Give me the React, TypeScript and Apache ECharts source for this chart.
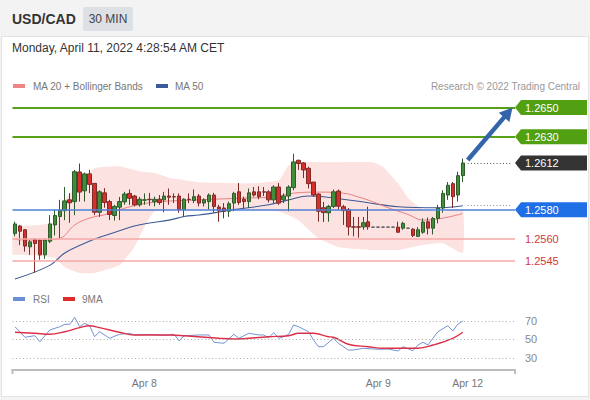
import React, { useEffect, useRef } from 'react';
import * as echarts from 'echarts';

const FONT = '"Liberation Sans", Arial, Helvetica, sans-serif';

// ---- Candles (30 min), index 0..90 ----
const candleOpen = [
  1.25637, 1.25688, 1.25662, 1.25545, 1.25595, 1.2559, 1.2549, 1.25583, 1.25695, 1.25753,
  1.25793, 1.25867, 1.25855, 1.26058, 1.25929, 1.26045, 1.2598, 1.25782, 1.25915, 1.25855,
  1.2576, 1.25817, 1.25853, 1.25911, 1.25893, 1.25833, 1.25865, 1.25871, 1.25855, 1.25871,
  1.25867, 1.25893, 1.25889, 1.25893, 1.258, 1.25871, 1.25862, 1.25893, 1.25845, 1.25855,
  1.259, 1.25818, 1.25811, 1.25789, 1.25845, 1.25922, 1.25871, 1.25855, 1.25922, 1.25922,
  1.25922, 1.25922, 1.25867, 1.25955, 1.25867, 1.25893, 1.25951, 1.26138, 1.2612, 1.26083,
  1.25989, 1.25907, 1.25813, 1.25778, 1.25822, 1.25927, 1.2582, 1.258, 1.25682, 1.25682,
  1.25682, 1.25717, 1.2568, 1.2568, 1.2568, 1.2568, 1.2568, 1.2568, 1.25673, 1.25673,
  1.25666, 1.25617, 1.25645, 1.25717, 1.25673, 1.2574, 1.25811, 1.259, 1.25978, 1.259,
  1.26033,
];
const candleClose = [
  1.25702, 1.25652, 1.2555, 1.25579, 1.25568, 1.2549, 1.2559, 1.25702, 1.2576, 1.25793,
  1.2586, 1.25847, 1.2606, 1.2592, 1.26045, 1.25973, 1.25782, 1.25922, 1.25849, 1.25767,
  1.25822, 1.25855, 1.25907, 1.25878, 1.25833, 1.25871, 1.25867, 1.25868, 1.25871, 1.25849,
  1.25893, 1.25885, 1.25887, 1.258, 1.25871, 1.2587, 1.25889, 1.25845, 1.25867, 1.259,
  1.25822, 1.25795, 1.25789, 1.2584, 1.25911, 1.25849, 1.25855, 1.25915, 1.259, 1.25889,
  1.2592, 1.25867, 1.25955, 1.25845, 1.25893, 1.25955, 1.26127, 1.26116, 1.26072, 1.25978,
  1.259, 1.25789, 1.2578, 1.25822, 1.25922, 1.25823, 1.25793, 1.25682, 1.2568, 1.2568,
  1.2571, 1.25682, 1.2568, 1.2568, 1.2568, 1.2568, 1.2568, 1.25645, 1.25706, 1.25673,
  1.25623, 1.25662, 1.25715, 1.25673, 1.2574, 1.25811, 1.25911, 1.25967, 1.25889, 1.26033,
  1.2612,
];
const candleLow = [
  1.25617, 1.25557, 1.25512, 1.2549, 1.25367, 1.25457, 1.25463, 1.2557, 1.25623, 1.256,
  1.25728, 1.2571, 1.25762, 1.25855, 1.25855, 1.25913, 1.25762, 1.2575, 1.25813, 1.25728,
  1.25725, 1.25728, 1.25833, 1.25833, 1.25822, 1.2582, 1.25833, 1.25827, 1.25822, 1.25833,
  1.25782, 1.25833, 1.25845, 1.25778, 1.2575, 1.25845, 1.25845, 1.25822, 1.25822, 1.258,
  1.25782, 1.25717, 1.2574, 1.2575, 1.25789, 1.25833, 1.25811, 1.25811, 1.25889, 1.25871,
  1.25893, 1.25849, 1.25845, 1.25833, 1.25845, 1.25789, 1.25933, 1.26072, 1.26016, 1.25945,
  1.25889, 1.25717, 1.25715, 1.25717, 1.25811, 1.258, 1.25695, 1.25623, 1.25617, 1.25608,
  1.25662, 1.25662, 1.2568, 1.2568, 1.2568, 1.2568, 1.2568, 1.25643, 1.25662, 1.25673,
  1.25612, 1.25612, 1.25635, 1.2563, 1.2563, 1.25706, 1.25778, 1.25867, 1.25811, 1.25855,
  1.25989,
];
const candleHigh = [
  1.25717, 1.25695, 1.25666, 1.2559, 1.25603, 1.25597, 1.25597, 1.25762, 1.258, 1.25867,
  1.25955, 1.25913, 1.26072, 1.26116, 1.26054, 1.26072, 1.2598, 1.25933, 1.25947, 1.25867,
  1.25833, 1.25887, 1.25922, 1.25938, 1.259, 1.25887, 1.25911, 1.25915, 1.25889, 1.259,
  1.25922, 1.25945, 1.25911, 1.25911, 1.25878, 1.25911, 1.25938, 1.25907, 1.25878, 1.25911,
  1.25915, 1.25833, 1.25845, 1.25855, 1.25922, 1.25982, 1.25889, 1.25945, 1.25955, 1.2596,
  1.25955, 1.25933, 1.25967, 1.25982, 1.25911, 1.25967, 1.26183, 1.26143, 1.26127, 1.26094,
  1.25989, 1.25913, 1.25853, 1.25833, 1.25938, 1.25938, 1.25833, 1.25811, 1.2575, 1.2575,
  1.2575, 1.2582, 1.2568, 1.2568, 1.2568, 1.2568, 1.2568, 1.25717, 1.25717, 1.25673,
  1.25673, 1.2568, 1.2574, 1.25746, 1.2575, 1.25833, 1.25933, 1.25989, 1.25989, 1.2606,
  1.2615,
];

// category slots (candles + empty room up to the labels)
const slotCount = 101;
const dateTickIndex = [26, 73, 91];
const dateTickLabel = ['Apr 8', 'Apr 9', 'Apr 12'];

// moving averages read at points [slot, price]
const ma20 = [
  [0, 1.25595], [5, 1.2559], [9, 1.25603], [12, 1.25695], [15, 1.25742], [19, 1.25773], [21, 1.258],
  [27, 1.25847], [37, 1.25867], [47, 1.2588], [52, 1.25887], [56, 1.25913], [61, 1.2592], [66, 1.25913],
  [69, 1.25887], [72, 1.25853], [75, 1.25813], [79, 1.25767], [82, 1.25728], [86, 1.25742], [90, 1.25773],
];
const ma50 = [
  [0, 1.25325], [7, 1.25418], [10, 1.25503], [14, 1.2557], [17, 1.2561], [21, 1.25655], [24, 1.25688],
  [27, 1.25708], [31, 1.25728], [34, 1.25753], [37, 1.25763], [44, 1.258], [51, 1.25833], [55, 1.25867],
  [59, 1.25893], [64, 1.2588], [71, 1.25847], [77, 1.2582], [85, 1.25813], [90, 1.25827],
];

// Bollinger band
const bandIdx = [0, 5, 8, 10, 13, 16, 21, 24, 26, 28, 31, 37, 47, 53, 55, 57, 61, 65, 72, 74, 77, 79, 82, 86, 90];
const bandUpper = [
  1.25688, 1.25695, 1.25715, 1.25867, 1.2598, 1.26085, 1.26098, 1.26072, 1.26058, 1.26052, 1.26018, 1.25987,
  1.2598, 1.26, 1.26105, 1.26125, 1.26125, 1.26125, 1.26125, 1.26092, 1.2598, 1.2588, 1.258, 1.25787, 1.258,
];
const bandLower = [
  1.2549, 1.25483, 1.2547, 1.25405, 1.25365, 1.25365, 1.25418, 1.25543, 1.25682, 1.25787, 1.258, 1.258,
  1.258, 1.25787, 1.25762, 1.25728, 1.25603, 1.25543, 1.25523, 1.25523, 1.25523, 1.25537, 1.25557, 1.2557, 1.25503,
];

// levels
const resistanceLevels = [1.265, 1.263];
const lastPrice = 1.2612;
const pivotLevel = 1.258;
const supportLevels = [1.256, 1.2545];
const ma50Last = 1.25827;
const arrowFrom = [91, 1.2614];
const arrowTo = [100, 1.265];

// RSI panel
const rsi = [
  [0, 63.8], [2, 52.4], [4, 54.1], [5, 47.6], [7, 60.3], [9, 63.8], [10, 66.4], [11, 66.4], [12, 74], [13, 63.8],
  [14, 67.5], [15, 64.9], [16, 53], [17, 58.4], [19, 51.3], [21, 55.6], [23, 56.7], [24, 54.9], [27, 55.5], [30, 54.5],
  [32, 55.6], [33, 48.4], [34, 54.1], [37, 54.9], [39, 54.9], [40, 47], [42, 45.9], [44, 55.6], [45, 51.3], [47, 56.7],
  [49, 54.9], [50, 54.9], [51, 52], [52, 57.4], [53, 51.3], [54, 53], [55, 55.6], [56, 65.7], [57, 63.8], [59, 58.4],
  [60, 49.5], [61, 42.2], [62, 42.2], [64, 51.3], [65, 45.9], [67, 38.6], [68, 38.6], [70, 40.5], [73, 39.4], [75, 39.7],
  [77, 37.6], [78, 42.2], [80, 37.9], [81, 44], [82, 47], [83, 44], [84, 51.3], [85, 58.4], [87, 64.9], [88, 59.2],
  [89, 66.4], [90, 70],
];
const rsi9ma = [
  [0, 57.8], [4, 56.7], [7, 55.6], [10, 58.4], [13, 62.8], [15, 64.9], [17, 62.8], [21, 57.8], [24, 54.9], [31, 54.9],
  [34, 54.1], [41, 51.3], [44, 50.5], [51, 53], [55, 54.1], [57, 56.7], [60, 56.7], [63, 53], [64, 52.4], [67, 44.8],
  [71, 42.2], [74, 40.5], [77, 40.5], [81, 40.5], [84, 44], [88, 51.3], [90, 57.8],
];
const rsiLevels = [70, 50, 30];

// layout
const GL = 12.5;
const GR = 515;

function buildOption(): any {
  const categories = Array.from({ length: slotCount }, (_, i) => String(i));
  const candleData = candleOpen.map((o, i) => {
    const c = candleClose[i];
    const l = candleLow[i];
    const h = candleHigh[i];
    if (o === c && h === l) {
      return { value: [o, c, l, h], itemStyle: { borderColor: '#555', borderColor0: '#555', color: '#555', color0: '#555' } };
    }
    return [o, c, l, h];
  });

  const levelLines = [
    ...resistanceLevels.map((v) => ({ yAxis: v, lineStyle: { color: '#56a11a', width: 2, type: 'solid' } })),
    { yAxis: pivotLevel, lineStyle: { color: '#4f80d6', width: 1.5, type: 'solid' } },
    ...supportLevels.map((v) => ({ yAxis: v, lineStyle: { color: '#f6a9a9', width: 1.5, type: 'solid' } })),
  ];

  return {
    animation: false,
    backgroundColor: 'transparent',
    textStyle: { fontFamily: FONT },
    grid: [
      { left: GL, width: GR - GL, top: 92.91, height: 189.67 },
      { left: GL, width: GR - GL, top: 311.75, height: 58.25 },
    ],
    xAxis: [
      { type: 'category', gridIndex: 0, data: categories, boundaryGap: true, show: false },
      {
        type: 'category',
        gridIndex: 1,
        data: categories,
        boundaryGap: true,
        axisLine: { show: true, lineStyle: { color: '#bdbdbd', width: 2 } },
        axisTick: { show: false },
        splitLine: { show: false },
        axisLabel: {
          interval: (index: number) => dateTickIndex.includes(index),
          formatter: (_v: string, index: number) => {
            const k = dateTickIndex.indexOf(index);
            return k >= 0 ? dateTickLabel[k] : '';
          },
          color: '#777',
          fontSize: 10.5,
          fontFamily: FONT,
          margin: 7,
        },
      },
    ],
    yAxis: [
      { type: 'value', gridIndex: 0, min: 1.253, max: 1.266, show: false },
      { type: 'value', gridIndex: 1, min: 17, max: 80, show: false },
    ],
    series: [
      {
        type: 'custom',
        name: 'band',
        xAxisIndex: 0,
        yAxisIndex: 0,
        z: 1,
        silent: true,
        data: bandIdx.map((ix, k) => [ix, bandUpper[k], bandLower[k]]),
        encode: { x: 0, y: [1, 2] },
        renderItem: (params: any, api: any) => {
          if (params.dataIndex !== 0) return { type: 'group', children: [] };
          const pts: number[][] = [];
          bandIdx.forEach((ix, k) => pts.push(api.coord([ix, bandUpper[k]])));
          for (let k = bandIdx.length - 1; k >= 0; k--) pts.push(api.coord([bandIdx[k], bandLower[k]]));
          const left = api.coord([0, bandUpper[0]])[0] - 2.5;
          pts.splice(0, 0, [left, pts[0][1]]);
          pts.push([left, pts[pts.length - 1][1]]);
          return {
            type: 'polygon',
            shape: { points: pts, smooth: 0.12 },
            style: { fill: 'rgba(247,160,160,0.3)', stroke: 'none' },
          };
        },
      },
      {
        type: 'line',
        name: 'MA 50',
        xAxisIndex: 0,
        yAxisIndex: 0,
        data: ma50,
        smooth: 0.4,
        showSymbol: false,
        z: 3,
        lineStyle: { color: '#3c5a93', width: 1.1 },
        markLine: {
          silent: true,
          precision: 6,
          symbol: ['none', 'none'],
          label: { show: false },
          data: [
            ...levelLines,
            [
              { coord: [91, lastPrice], lineStyle: { color: '#555', width: 1.2, type: [1, 2.2] } },
              { coord: [slotCount - 1, lastPrice] },
            ],
            [
              { coord: [91, ma50Last], lineStyle: { color: '#8a8a8a', width: 1, type: [1, 2.2] } },
              { coord: [slotCount - 1, ma50Last] },
            ],
          ],
        },
      },
      {
        type: 'line',
        name: 'MA 20',
        xAxisIndex: 0,
        yAxisIndex: 0,
        data: ma20,
        smooth: 0.4,
        showSymbol: false,
        z: 3,
        lineStyle: { color: '#e68080', width: 1 },
      },
      {
        type: 'candlestick',
        name: 'USD/CAD',
        xAxisIndex: 0,
        yAxisIndex: 0,
        data: candleData,
        barWidth: 4,
        z: 4,
        itemStyle: {
          color: '#3f8f3a',
          color0: '#d7302c',
          borderColor: '#2f5a2c',
          borderColor0: '#7d2b27',
          borderWidth: 1,
        },
      },
      {
        type: 'line',
        name: 'RSI',
        xAxisIndex: 1,
        yAxisIndex: 1,
        data: rsi,
        showSymbol: false,
        z: 3,
        lineStyle: { color: '#7393d2', width: 1 },
        markLine: {
          silent: true,
          symbol: ['none', 'none'],
          label: { show: false },
          lineStyle: { color: '#aaaaaa', width: 1, type: [1, 2.5] },
          data: rsiLevels.map((v) => ({ yAxis: v })),
        },
      },
      {
        type: 'line',
        name: '9MA',
        xAxisIndex: 1,
        yAxisIndex: 1,
        data: rsi9ma,
        smooth: 0.4,
        showSymbol: false,
        z: 4,
        lineStyle: { color: '#dc3048', width: 1.4 },
      },
    ],
  };
}

function buildGraphic(chart: any): any[] {
  const px = (grid: number, p: number[]) => chart.convertToPixel({ gridIndex: grid }, p) as number[];
  const els: any[] = [];
  const txt = (x: number, y: number, text: string, size: number, fill: string, extra: any = {}) => ({
    type: 'text',
    x,
    y,
    silent: true,
    z: 20,
    style: { text, fontSize: size, fontFamily: FONT, fill, verticalAlign: 'middle', align: 'left', ...extra },
  });

  // panel
  els.push({
    type: 'rect',
    z: -10,
    silent: true,
    shape: { x: 1.5, y: 36.5, width: 587, height: 360 },
    style: { fill: '#ffffff', stroke: '#e3e3e3', lineWidth: 1 },
  });
  // header
  els.push(txt(12, 19, 'USD/CAD', 14, '#333', { fontWeight: 'bold' }));
  els.push({
    type: 'rect',
    z: 19,
    silent: true,
    shape: { x: 83, y: 7, width: 50, height: 24, r: 2 },
    style: { fill: '#dde0e4' },
  });
  els.push(txt(108, 19, '30 MIN', 12, '#444', { align: 'center' }));
  els.push(txt(12, 48, 'Monday, April 11, 2022 4:28:54 AM CET', 12, '#333'));

  // legend main
  els.push({ type: 'rect', z: 20, silent: true, shape: { x: 13, y: 84, width: 12, height: 4 }, style: { fill: '#f08585' } });
  els.push(txt(33, 86, 'MA 20 + Bollinger Bands', 10, '#777'));
  els.push({ type: 'rect', z: 20, silent: true, shape: { x: 156, y: 84, width: 12, height: 4 }, style: { fill: '#3a5a98' } });
  els.push(txt(175, 86, 'MA 50', 10, '#777'));
  els.push(txt(580, 86, 'Research © 2022 Trading Central', 10, '#999', { align: 'right' }));

  // legend RSI
  els.push({ type: 'rect', z: 20, silent: true, shape: { x: 13, y: 297, width: 12, height: 4 }, style: { fill: '#6b8fd4' } });
  els.push(txt(33, 299, 'RSI', 10, '#777'));
  els.push({ type: 'rect', z: 20, silent: true, shape: { x: 63, y: 297, width: 12, height: 4 }, style: { fill: '#e02b2b' } });
  els.push(txt(82, 299, '9MA', 10, '#777'));

  // price boxes
  const box = (v: number, fill: string) => {
    const y = px(0, [0, v])[1];
    els.push({
      type: 'polygon',
      z: 19,
      silent: true,
      shape: { points: [[GR, y], [GR + 6, y - 7.5], [587, y - 7.5], [587, y + 7.5], [GR + 6, y + 7.5]] },
      style: { fill },
    });
    els.push(txt(GR + 10, y, v.toFixed(4), 11, '#ffffff'));
  };
  resistanceLevels.forEach((v) => box(v, '#51a012'));
  box(lastPrice, '#333333');
  box(pivotLevel, '#1f6fe6');
  supportLevels.forEach((v) => {
    const y = px(0, [0, v])[1];
    els.push(txt(GR + 10, y, v.toFixed(4), 11, '#d2383a'));
  });

  // RSI level labels
  rsiLevels.forEach((v) => {
    const y = px(1, [0, v])[1];
    els.push(txt(GR + 10, y, String(v), 11, '#888'));
  });

  // axis end ticks
  const axisY = px(1, [0, 17])[1];
  [GL, GR].forEach((x) => {
    els.push({
      type: 'line',
      z: 20,
      silent: true,
      shape: { x1: x, y1: axisY - 1, x2: x, y2: axisY + 4 },
      style: { stroke: '#bdbdbd', lineWidth: 2 },
    });
  });

  // arrow
  const a = px(0, arrowFrom);
  const b = px(0, arrowTo);
  const dx = b[0] - a[0];
  const dy = b[1] - a[1];
  const len = Math.sqrt(dx * dx + dy * dy);
  const ux = dx / len;
  const uy = dy / len;
  const headL = 13;
  const headW = 7;
  const bx = b[0] - ux * headL;
  const by = b[1] - uy * headL;
  els.push({
    type: 'line',
    z: 21,
    silent: true,
    shape: { x1: a[0], y1: a[1], x2: bx + ux * 1, y2: by + uy * 1 },
    style: { stroke: '#3465ab', lineWidth: 4.5 },
  });
  els.push({
    type: 'polygon',
    z: 21,
    silent: true,
    shape: { points: [[b[0], b[1]], [bx - uy * headW, by + ux * headW], [bx + uy * headW, by - ux * headW]] },
    style: { fill: '#3465ab' },
  });
  return els;
}

export default function App() {
  const ref = useRef<HTMLDivElement>(null);
  useEffect(() => {
    if (!ref.current) return;
    const chart = echarts.init(ref.current, null, { renderer: 'svg' });
    chart.setOption(buildOption());
    chart.setOption({ graphic: buildGraphic(chart) });
    return () => chart.dispose();
  }, []);
  return (
    <div
      ref={ref}
      style={{ position: 'absolute', left: 0, top: 0, width: 590, height: 400, background: '#f3f3f3' }}
    />
  );
}
